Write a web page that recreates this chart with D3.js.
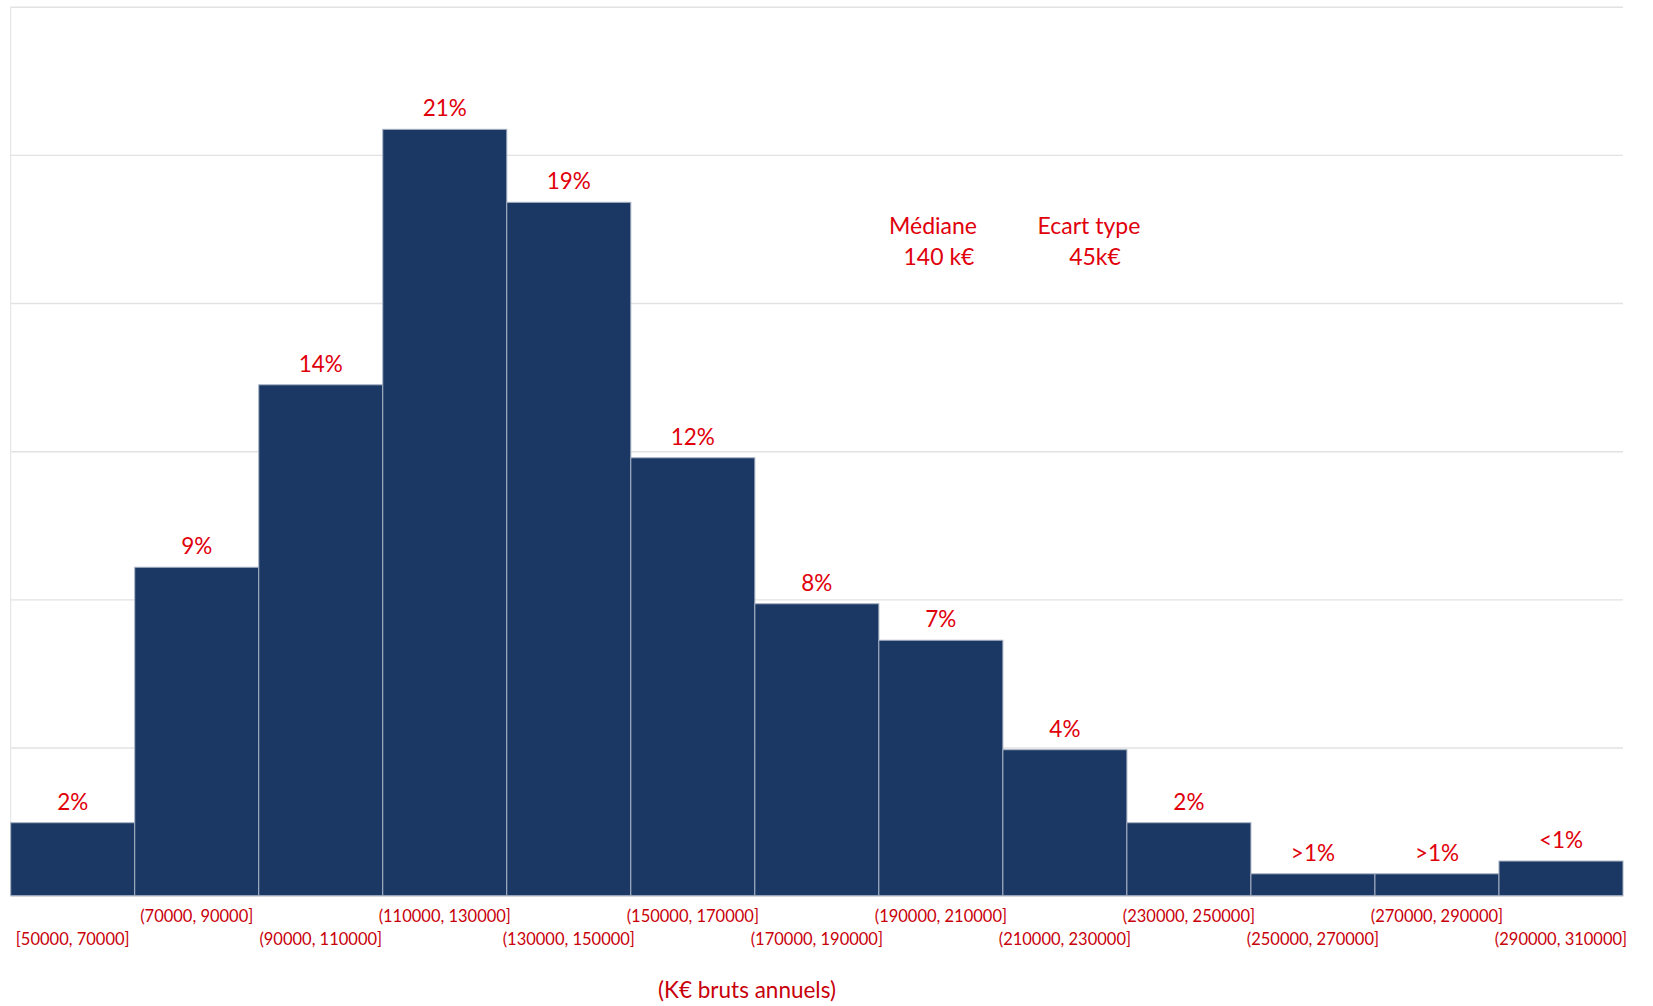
<!DOCTYPE html>
<html>
<head>
<meta charset="utf-8">
<script src="https://cdn.jsdelivr.net/npm/d3@7"></script>
<style>
  body { margin: 0; background: #fff; }
  text { font-family: Lato, "Open Sans", sans-serif; }
</style>
</head>
<body>
<svg id="chart" width="1653" height="1006"></svg>
<script>
// Annual gross salary bands (€)
const bands = [
  "[50000, 70000]", "(70000, 90000]", "(90000, 110000]", "(110000, 130000]",
  "(130000, 150000]", "(150000, 170000]", "(170000, 190000]", "(190000, 210000]",
  "(210000, 230000]", "(230000, 250000]", "(250000, 270000]", "(270000, 290000]",
  "(290000, 310000]"
];
// Share of people in each band (%)
const shares = [2, 9, 14, 21, 19, 12, 8, 7, 4, 2, 0.6, 0.6, 0.95];
// Text printed above each bar
const shareLabels = ["2%", "9%", "14%", "21%", "19%", "12%", "8%", "7%", "4%", "2%", ">1%", ">1%", "<1%"];
// Summary statistics shown in the plot area
const statTitles = ["Médiane", "Ecart type"];
const statValues = ["140 k€", "45k€"];
const axisTitle = "(K€ bruts annuels)";

const svg = d3.select("#chart");
const plot = { left: 10.7, right: 1623, top: 6.7, bottom: 895.7 };
const yMax = 24.36;

const x = d3.scaleBand()
  .domain(bands)
  .range([plot.left, plot.right])
  .paddingInner(0)
  .paddingOuter(0);

const y = d3.scaleLinear()
  .domain([0, yMax])
  .range([plot.bottom, plot.top]);

// Horizontal gridlines, evenly spaced over the value range
const gridValues = d3.range(7).map(i => yMax * i / 6);
const grid = svg.append("g")
  .attr("transform", `translate(${plot.left},0)`)
  .call(d3.axisLeft(y).tickValues(gridValues).tickSize(-(plot.right - plot.left)).tickFormat(""));
grid.select(".domain").remove();
grid.selectAll(".tick line").attr("stroke", "#e2e2e2").attr("stroke-width", 1.4);

// Left edge of the plot area
svg.append("line")
  .attr("x1", plot.left).attr("x2", plot.left)
  .attr("y1", plot.top).attr("y2", plot.bottom)
  .attr("stroke", "#e6e6e6").attr("stroke-width", 1.2);

// Histogram bars
svg.append("g").selectAll("rect")
  .data(shares)
  .join("rect")
  .attr("x", (d, i) => x(bands[i]))
  .attr("y", d => y(d))
  .attr("width", x.bandwidth())
  .attr("height", d => y(0) - y(d))
  .attr("fill", "#1b3865")
  .attr("stroke", "#a7b1c2")
  .attr("stroke-width", 1);

// Value labels above the bars
svg.append("g").selectAll("text")
  .data(shares)
  .join("text")
  .attr("x", (d, i) => x(bands[i]) + x.bandwidth() / 2)
  .attr("y", d => y(d) - 13)
  .attr("text-anchor", "middle")
  .attr("font-size", 22.5)
  .attr("fill", "#e0000b")
  .text((d, i) => shareLabels[i]);

// Band labels below the axis, staggered on two rows
svg.append("g").selectAll("text")
  .data(bands)
  .join("text")
  .attr("x", d => x(d) + x.bandwidth() / 2)
  .attr("y", (d, i) => i % 2 === 0 ? 945 : 922)
  .attr("text-anchor", "middle")
  .attr("font-size", 16.5)
  .attr("fill", "#c8000a")
  .text(d => d);

// Axis title
svg.append("text")
  .attr("x", 747)
  .attr("y", 998)
  .attr("text-anchor", "middle")
  .attr("font-size", 22.5)
  .attr("fill", "#c8000a")
  .text(axisTitle);

// Median and standard deviation
const statX = [933, 1089];
const stats = svg.append("g");
statTitles.forEach((t, i) => {
  stats.append("text")
    .attr("x", statX[i]).attr("y", 234)
    .attr("text-anchor", "middle")
    .attr("font-size", 23)
    .attr("fill", "#e0000b")
    .text(t);
  stats.append("text")
    .attr("x", statX[i] + 6).attr("y", 265)
    .attr("text-anchor", "middle")
    .attr("font-size", 23)
    .attr("fill", "#e0000b")
    .text(statValues[i]);
});
</script>
</body>
</html>
